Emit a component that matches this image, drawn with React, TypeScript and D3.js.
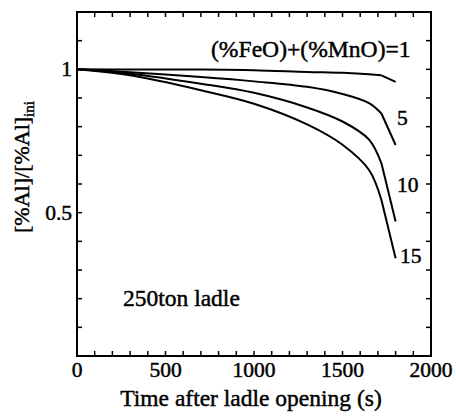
import React from "react";
import * as d3 from "d3";

const times = [0, 300, 700, 1000, 1300, 1500, 1650, 1720, 1800];
const seriesLabels = ["(%FeO)+(%MnO)=1", "5", "10", "15"];
const c1 = [1, 0.999, 0.999, 0.997, 0.991, 0.988, 0.983, 0.979, 0.956];
const c5 = [1, 0.99, 0.973, 0.958, 0.939, 0.914, 0.882, 0.846, 0.736];
const c10 = [1, 0.985, 0.95, 0.918, 0.867, 0.818, 0.755, 0.672, 0.469];
const c15 = [1, 0.979, 0.927, 0.88, 0.808, 0.737, 0.649, 0.544, 0.341];
const xTickLabels = [0, 500, 1000, 1500, 2000];
const yTickLabels = [0.5, 1];

const W = 456, H = 419;
const m = { left: 77, right: 431, top: 12, bottom: 356 };
const FONT = "Liberation Serif, Times New Roman, serif";

export default function App() {
  const x = d3.scaleLinear().domain([0, 2000]).range([m.left, m.right]);
  const y = d3.scaleLinear().domain([0, 1.2]).range([m.bottom, m.top]);
  const smooth = d3
    .line<[number, number]>()
    .x((d) => x(d[0]))
    .y((d) => y(d[1]))
    .curve(d3.curveCatmullRom.alpha(0.5));
  const straight = d3
    .line<[number, number]>()
    .x((d) => x(d[0]))
    .y((d) => y(d[1]));
  const series = [c1, c5, c10, c15];
  const xMinor = d3.range(0, 2001, 100);
  const yMinor = d3.range(0, 1.2001, 0.1);
  const tl = 5;
  const labelPos = [
    { dx: 211, dy: 57, fs: 23.6 },
    { dx: 397, dy: 125, fs: 21.5 },
    { dx: 397, dy: 192, fs: 21.5 },
    { dx: 400, dy: 263, fs: 21.5 },
  ];
  const base = {
    fontFamily: FONT,
    fill: "#000",
    stroke: "#000",
    strokeWidth: 0.45,
  } as React.CSSProperties;
  const num = { ...base, fontSize: 21.5 } as React.CSSProperties;
  const big = { ...base, fontSize: 23.5 } as React.CSSProperties;
  return (
    <svg
      width={W}
      height={H}
      style={{ position: "absolute", left: 0, top: 0, background: "#fff", fontFamily: FONT }}
    >
      <rect width={W} height={H} fill="#fff" />
      {xMinor.map((t) => (
        <g key={"xt" + t} stroke="#000" strokeWidth={1.5}>
          <line x1={x(t)} x2={x(t)} y1={m.bottom} y2={m.bottom - tl} />
          <line x1={x(t)} x2={x(t)} y1={m.top} y2={m.top + tl} />
        </g>
      ))}
      {yMinor.map((v) => (
        <g key={"yt" + v} stroke="#000" strokeWidth={1.5}>
          <line x1={m.left} x2={m.left + tl} y1={y(v)} y2={y(v)} />
          <line x1={m.right} x2={m.right - tl} y1={y(v)} y2={y(v)} />
        </g>
      ))}
      <rect
        x={m.left}
        y={m.top}
        width={m.right - m.left}
        height={m.bottom - m.top}
        fill="none"
        stroke="#000"
        strokeWidth={2}
      />
      {series.map((s, i) => {
        const pts = s.map((v, j) => [times[j], v] as [number, number]);
        const n = pts.length;
        return (
          <g key={i} fill="none" stroke="#000" strokeWidth={2}>
            <path d={smooth(pts.slice(0, n - 1)) || ""} />
            <path d={straight(pts.slice(n - 2)) || ""} />
          </g>
        );
      })}
      {xTickLabels.map((t) => (
        <text key={"xl" + t} x={x(t)} y={377} textAnchor="middle" style={num}>
          {t}
        </text>
      ))}
      {yTickLabels.map((v) => (
        <text key={"yl" + v} x={72} y={y(v) + 7} textAnchor="end" style={num}>
          {v}
        </text>
      ))}
      <text x={251} y={406} textAnchor="middle" style={big}>
        Time after ladle opening (s)
      </text>
      <text transform={`translate(29,167) rotate(-90)`} textAnchor="middle" style={{ ...base, fontSize: 22 }}>
        [%Al]/[%Al]
        <tspan style={{ fontSize: 15 }} dy={5}>ini</tspan>
      </text>
      <text x={123} y={306} style={big}>
        250ton ladle
      </text>
      {seriesLabels.map((l, i) => (
        <text key={"sl" + i} x={labelPos[i].dx} y={labelPos[i].dy} style={{ ...base, fontSize: labelPos[i].fs }}>
          {l}
        </text>
      ))}
    </svg>
  );
}
